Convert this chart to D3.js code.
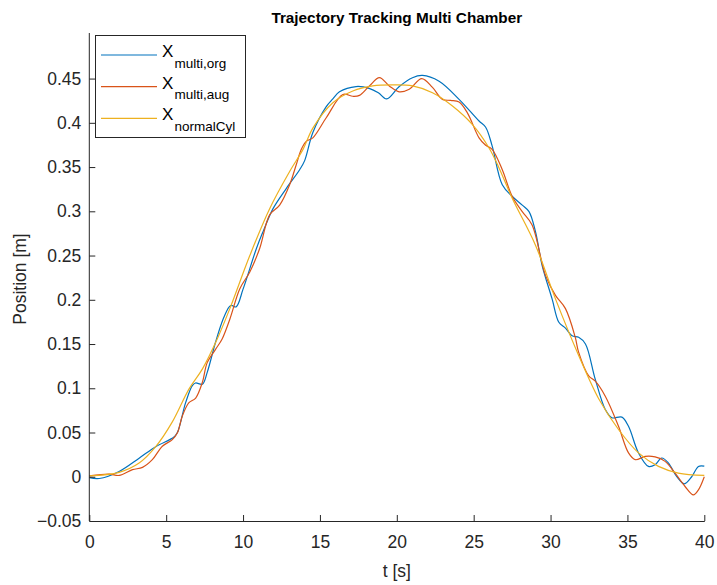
<!DOCTYPE html>
<html>
<head>
<meta charset="utf-8">
<script src="https://cdn.jsdelivr.net/npm/d3@7"></script>
<style>
  body { margin: 0; background: #fff; }
  svg { display: block; font-family: "Liberation Sans", Arial, sans-serif; }
</style>
</head>
<body>
<div id="chart"></div>
<script>
// values
const xTicks = [0, 5, 10, 15, 20, 25, 30, 35, 40];
const yTicks = [-0.05, 0, 0.05, 0.1, 0.15, 0.2, 0.25, 0.3, 0.35, 0.4, 0.45];

const seriesNames = ["multi,org", "multi,aug", "normalCyl"];
const seriesColors = ["#0072BD", "#D95319", "#EDB120"];

const tOrg = [0, 0.65, 1.94, 3.24, 4.32, 5.51, 5.73, 6.27, 6.7, 6.91, 7.35, 7.67, 8.21, 8.7, 9.1, 9.25, 9.55,
  10.0, 10.87, 11.3, 11.95, 12.82, 13.68, 14.0, 14.54, 15.4, 15.84, 16.27, 17.35, 18.2, 18.8, 19.34, 20.16,
  21.02, 21.67, 22.75, 24.05, 25.35, 25.78, 26.2, 26.86, 27.5, 28.16, 28.6, 29.02, 29.45, 30.1, 30.54, 30.97,
  31.4, 31.83, 32.27, 32.91, 33.56, 33.99, 34.64, 35.07, 35.72, 36.37, 36.8, 37.23, 37.67, 38.2, 38.7, 39.18,
  39.62, 40];
const xOrg = [-0.001, -0.002, 0.006, 0.021, 0.034, 0.045, 0.05, 0.084, 0.103, 0.106, 0.1045, 0.118, 0.152, 0.178,
  0.192, 0.1936, 0.192, 0.212, 0.258, 0.277, 0.303, 0.326, 0.347, 0.357, 0.389, 0.418, 0.427, 0.435, 0.441, 0.439,
  0.434, 0.427, 0.441, 0.451, 0.4535, 0.447, 0.4265, 0.402, 0.395, 0.374, 0.33, 0.317, 0.307, 0.2996, 0.277, 0.239,
  0.201, 0.1746, 0.168, 0.1594, 0.1576, 0.15, 0.11, 0.076, 0.0667, 0.0674, 0.057, 0.0269, 0.0117, 0.0136, 0.0212,
  0.0155, 0.0003, -0.008, 0.0, 0.0117, 0.012];

const tAug = [0, 1.3, 1.94, 2.81, 3.46, 4.1, 4.75, 5.4, 5.73, 6.05, 6.48, 6.92, 7.35, 7.67, 8.21, 8.64, 9.14,
  9.79, 10.44, 11.08, 11.73, 12.38, 13.03, 13.46, 13.79, 14.11, 14.54, 15.41, 16.49, 17.14, 17.57, 18.22, 18.87,
  19.51, 20.16, 20.81, 21.62, 22.32, 22.97, 23.5, 24.05, 24.6, 25.35, 25.78, 26.2, 26.86, 27.5, 28.16, 28.8,
  29.67, 30.32, 30.97, 31.6, 31.83, 32.48, 32.91, 33.56, 34.42, 35.07, 35.51, 36.16, 36.8, 37.45, 38.1, 38.75,
  39.29, 39.62, 40];
const xAug = [0.001, 0.003, 0.0015, 0.008, 0.0106, 0.0193, 0.0345, 0.042, 0.0497, 0.0686, 0.0837, 0.089, 0.1065,
  0.129, 0.144, 0.1557, 0.178, 0.2125, 0.2315, 0.258, 0.296, 0.307, 0.33, 0.3526, 0.37, 0.379, 0.383, 0.4057, 0.432,
  0.43, 0.431, 0.4417, 0.451, 0.4417, 0.435, 0.438, 0.45, 0.44, 0.4265, 0.4253, 0.4235, 0.411, 0.383, 0.3746, 0.37,
  0.347, 0.317, 0.2996, 0.2845, 0.2276, 0.205, 0.19, 0.158, 0.1405, 0.114, 0.108, 0.091, 0.057, 0.027, 0.0193,
  0.023, 0.0224, 0.0174, 0.004, -0.011, -0.0205, -0.0148, 0.0];

const tCyl = [0, 1.94, 3.24, 4.32, 5.4, 6.48, 7.35, 8.32, 9.14, 10.44, 11.73, 13.03, 13.9, 14.54, 15.84, 17.14,
  18.43, 19.73, 21.02, 22.32, 23.62, 24.92, 26.0, 26.65, 27.5, 29.02, 30.32, 31.83, 33.15, 34.42, 35.72, 37.02,
  38.31, 40];
const xCyl = [0.001, 0.005, 0.0155, 0.034, 0.062, 0.099, 0.1216, 0.1557, 0.19, 0.25, 0.303, 0.345, 0.37, 0.394,
  0.4227, 0.436, 0.4417, 0.4428, 0.4417, 0.434, 0.419, 0.398, 0.3716, 0.349, 0.315, 0.2617, 0.201, 0.137, 0.0875,
  0.0534, 0.027, 0.0117, 0.0042, 0.0015];

const width = 717, height = 585;
const margin = {left: 89.3, right: 704.3, top: 33, bottom: 521};
const axisColor = "#262626";

const svg = d3.select("#chart").append("svg")
  .attr("width", width)
  .attr("height", height);

const xScale = d3.scaleLinear().domain([0, 40]).range([margin.left, margin.right]);
const yScale = d3.scaleLinear().domain([-0.05, 0.5015]).range([margin.bottom, margin.top]);

const series = [
  tOrg.map((t, i) => ({x: t, y: xOrg[i]})),
  tAug.map((t, i) => ({x: t, y: xAug[i]})),
  tCyl.map((t, i) => ({x: t, y: xCyl[i]}))
];

const line = d3.line()
  .x(d => xScale(d.x))
  .y(d => yScale(d.y))
  .curve(d3.curveCatmullRom.alpha(0.5));

series.forEach((s, i) => {
  svg.append("path")
    .attr("d", line(s))
    .attr("fill", "none")
    .attr("stroke", seriesColors[i])
    .attr("stroke-width", 1.2);
});

const xAxis = d3.axisBottom(xScale)
  .tickValues(xTicks)
  .tickSizeInner(-6)
  .tickSizeOuter(0)
  .tickPadding(15)
  .tickFormat(d3.format("d"));

const yAxis = d3.axisLeft(yScale)
  .tickValues(yTicks)
  .tickSizeInner(-6)
  .tickSizeOuter(0)
  .tickPadding(8)
  .tickFormat(d => d === 0 ? "0" : String(+d.toFixed(2)).replace("-", "\u2212"));

const gx = svg.append("g")
  .attr("transform", "translate(0," + margin.bottom + ")")
  .call(xAxis);
const gy = svg.append("g")
  .attr("transform", "translate(" + margin.left + ",0)")
  .call(yAxis);

gy.select(".domain").attr("d", "M0," + margin.bottom + "V" + margin.top);

[gx, gy].forEach(g => {
  g.select(".domain").attr("stroke", axisColor);
  g.selectAll(".tick line").attr("stroke", axisColor);
  g.selectAll(".tick text")
    .attr("fill", axisColor)
    .style("font-size", "17.5px")
    .style("font-family", "'Liberation Sans', Arial, sans-serif");
});

// title and axis labels
svg.append("text")
  .attr("x", (margin.left + margin.right) / 2)
  .attr("y", 23)
  .attr("text-anchor", "middle")
  .style("font-size", "15.3px")
  .style("font-weight", "bold")
  .attr("fill", "#000")
  .text("Trajectory Tracking Multi Chamber");

svg.append("text")
  .attr("x", (margin.left + margin.right) / 2)
  .attr("y", 577)
  .attr("text-anchor", "middle")
  .style("font-size", "17.5px")
  .attr("fill", axisColor)
  .text("t [s]");

svg.append("text")
  .attr("transform", "translate(26,279) rotate(-90)")
  .attr("text-anchor", "middle")
  .style("font-size", "17.5px")
  .attr("fill", axisColor)
  .text("Position [m]");

// legend
const legend = svg.append("g");
legend.append("rect")
  .attr("x", 95.5).attr("y", 35.5)
  .attr("width", 150).attr("height", 102)
  .attr("fill", "#fff")
  .attr("stroke", axisColor);

seriesNames.forEach((name, i) => {
  const ly = 55 + i * 31.7;
  legend.append("line")
    .attr("x1", 101).attr("x2", 157)
    .attr("y1", ly).attr("y2", ly)
    .attr("stroke", seriesColors[i])
    .attr("stroke-width", 1.2);
  legend.append("text")
    .attr("x", 162).attr("y", ly + 2)
    .style("font-size", "17px")
    .attr("fill", "#000")
    .text("X");
  legend.append("text")
    .attr("x", 174.5).attr("y", ly + 12.5)
    .style("font-size", "13.5px")
    .attr("fill", "#000")
    .text(name);
});
</script>
</body>
</html>
